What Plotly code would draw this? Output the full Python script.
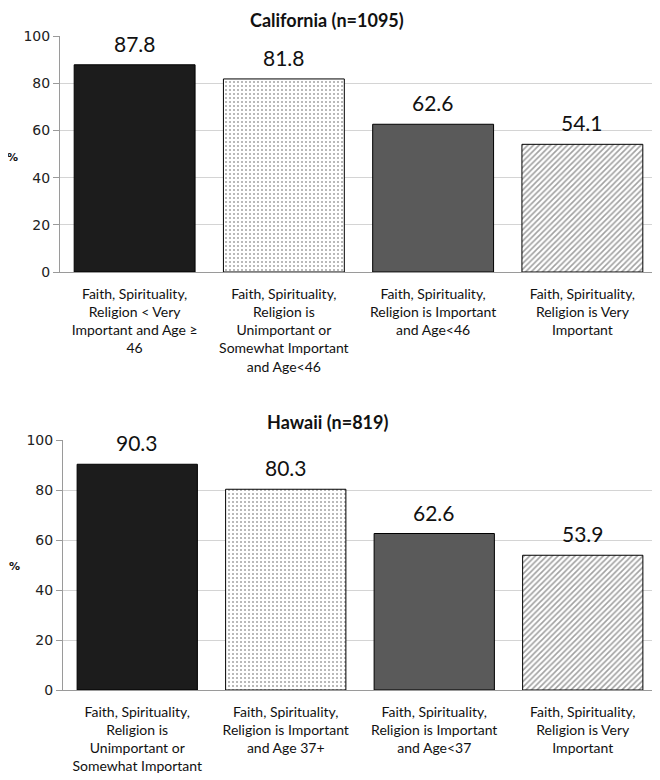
import plotly.graph_objects as go

ca_title = "California (n=1095)"
hi_title = "Hawaii (n=819)"
ca_labels = [
    "Faith, Spirituality,<br>Religion < Very<br>Important and Age ≥<br>46",
    "Faith, Spirituality,<br>Religion is<br>Unimportant or<br>Somewhat Important<br>and Age<46",
    "Faith, Spirituality,<br>Religion is Important<br>and Age<46",
    "Faith, Spirituality,<br>Religion is Very<br>Important",
]
ca_values = [87.8, 81.8, 62.6, 54.1]
hi_labels = [
    "Faith, Spirituality,<br>Religion is<br>Unimportant or<br>Somewhat Important",
    "Faith, Spirituality,<br>Religion is Important<br>and Age 37+",
    "Faith, Spirituality,<br>Religion is Important<br>and Age<37",
    "Faith, Spirituality,<br>Religion is Very<br>Important",
]
hi_values = [90.3, 80.3, 62.6, 53.9]
y_ticks = [0, 20, 40, 60, 80, 100]

colors = ["#1c1c1c", "white", "#5a5a5a", "white"]
shapes = ["", ".", "", "/"]

fig = go.Figure()

def add_panel(labels, values, xa, ya):
    cats = list(range(len(labels)))
    fig.add_trace(go.Bar(
        x=cats, y=values, xaxis=xa, yaxis=ya,
        marker=dict(
            color=colors,
            line=dict(color="black", width=1),
            pattern=dict(shape=shapes, fgcolor="black", bgcolor=colors,
                         size=[6, 4, 6, 4], solidity=[0.2, 0.2, 0.2, 0.4]),
        ),
        width=0.81,
        showlegend=False, hoverinfo="skip",
    ))
    for c, v in zip(cats, values):
        fig.add_annotation(
            x=c, y=v, xref=xa, yref=ya, text=f"{v:.1f}", showarrow=False,
            yanchor="bottom", yshift=7,
            font=dict(family="Lato, DejaVu Sans", size=21, color="#111"),
        )

add_panel(ca_labels, ca_values, "x", "y")
add_panel(hi_labels, hi_values, "x2", "y2")

W, H = 660, 780
OFF = 8  # page body margin offset
def ydom(top, bottom):
    return [1 - (bottom - OFF) / H, 1 - (top - OFF) / H]
def xd(px):
    return (px - OFF) / W
def yd(px):
    return 1 - (px - OFF) / H

tickfont_x = dict(family="Lato, DejaVu Sans", size=14, color="#111")
xcommon = dict(range=[-0.5, 3.5], showgrid=False, showline=True, linecolor="#9a9a9a",
               linewidth=1, ticks="", tickmode="array", tickvals=[0, 1, 2, 3],
               tickfont=tickfont_x, ticklabelstandoff=9,
               automargin=False)
ycommon = dict(range=[0, 100], tickvals=y_ticks, showgrid=True, gridcolor="#d4d4d4",
               gridwidth=1, showline=True, linecolor="#9a9a9a", linewidth=1,
               ticks="outside", ticklen=6, tickcolor="#9a9a9a",
               tickfont=dict(family="DejaVu Sans", size=14, color="#222"),
               zeroline=False, automargin=False)

def label(text, xpx, ypx, size, family="Lato, DejaVu Sans"):
    return dict(text=text, x=xd(xpx), y=yd(ypx), xref="paper", yref="paper",
                xanchor="center", yanchor="middle", showarrow=False,
                font=dict(family=family, size=size, color="#111"))

fig.update_layout(
    width=W, height=H,
    margin=dict(l=0, r=0, t=0, b=0),
    plot_bgcolor="white", paper_bgcolor="white",
    xaxis=dict(xcommon, domain=[xd(60), xd(657)], ticktext=ca_labels, anchor="y"),
    yaxis=dict(ycommon, domain=ydom(36, 272), anchor="x"),
    xaxis2=dict(xcommon, domain=[xd(63), xd(657)], ticktext=hi_labels, anchor="y2"),
    yaxis2=dict(ycommon, domain=ydom(440, 690), anchor="x2"),
    bargap=0.19,
    annotations=list(fig.layout.annotations) + [
        label("<b>" + ca_title + "</b>", 327, 20, 18),
        label("<b>" + hi_title + "</b>", 327, 422, 18),
        label("<b>%</b>", 12, 157, 11, "DejaVu Sans"),
        label("<b>%</b>", 14, 566, 11, "DejaVu Sans"),
    ],
)

fig.write_html("out.html")
